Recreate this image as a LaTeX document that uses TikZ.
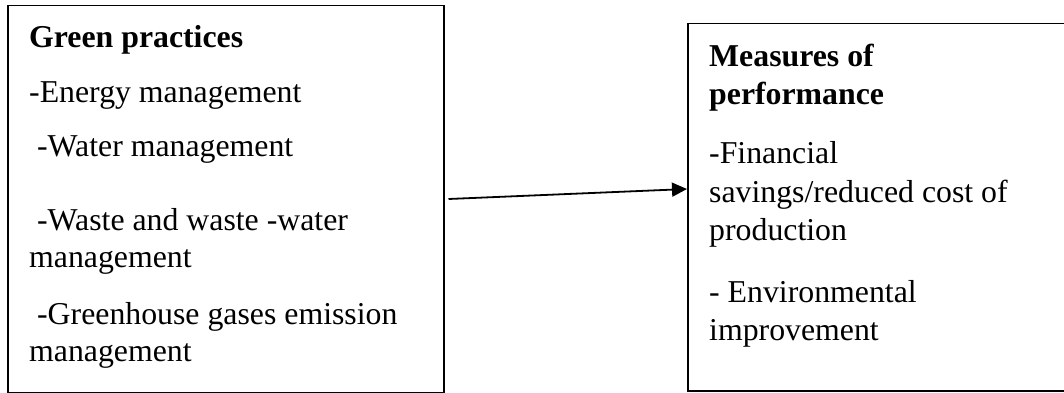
\documentclass[tikz,border=0pt]{standalone}
\usepackage{fontspec}
\setmainfont{Liberation Serif}
\usetikzlibrary{arrows.meta,positioning,calc}
\tikzset{
  frame/.style ={rectangle, draw=black, line width=1.5pt, inner sep=0pt,
                 anchor=north west},
  blurb/.style ={align=left, inner sep=0pt,
                 font=\fontsize{31.8}{37.5}\selectfont},
  flow/.style  ={-{Triangle[length=15pt,width=14pt]}, line width=1.8pt, draw=black},
}

\begin{document}
\begin{tikzpicture}[x=1pt, y=1pt]
  \useasboundingbox (0,0) rectangle (1064,392);
  \node[frame, minimum width=436pt, minimum height=387pt] (green) at (7,387) {};
  \node[frame, minimum width=383pt, minimum height=367pt] (perf)  at (687,369) {};
  \node[blurb, below right=20pt and 22pt of green.north west] (greentxt)
    {\textbf{Green practices}\\[17.5pt]-Energy management\\[16.5pt]\ -Water management\\[36.5pt]\ -Waste and waste -water\\management\\[19pt]\ -Greenhouse gases emission\\management};
  \node[blurb, below right=21pt and 22pt of perf.north west] (perftxt)
    {\textbf{Measures of}\\\textbf{performance}\\[21.5pt]-Financial\\[2pt]savings/reduced cost of\\production\\[25pt]- Environmental\\improvement};
  \draw[flow] ($(green.north east)+(4,-194)$) -- ($(perf.north west)+(0,-166)$);
\end{tikzpicture}
\end{document}
